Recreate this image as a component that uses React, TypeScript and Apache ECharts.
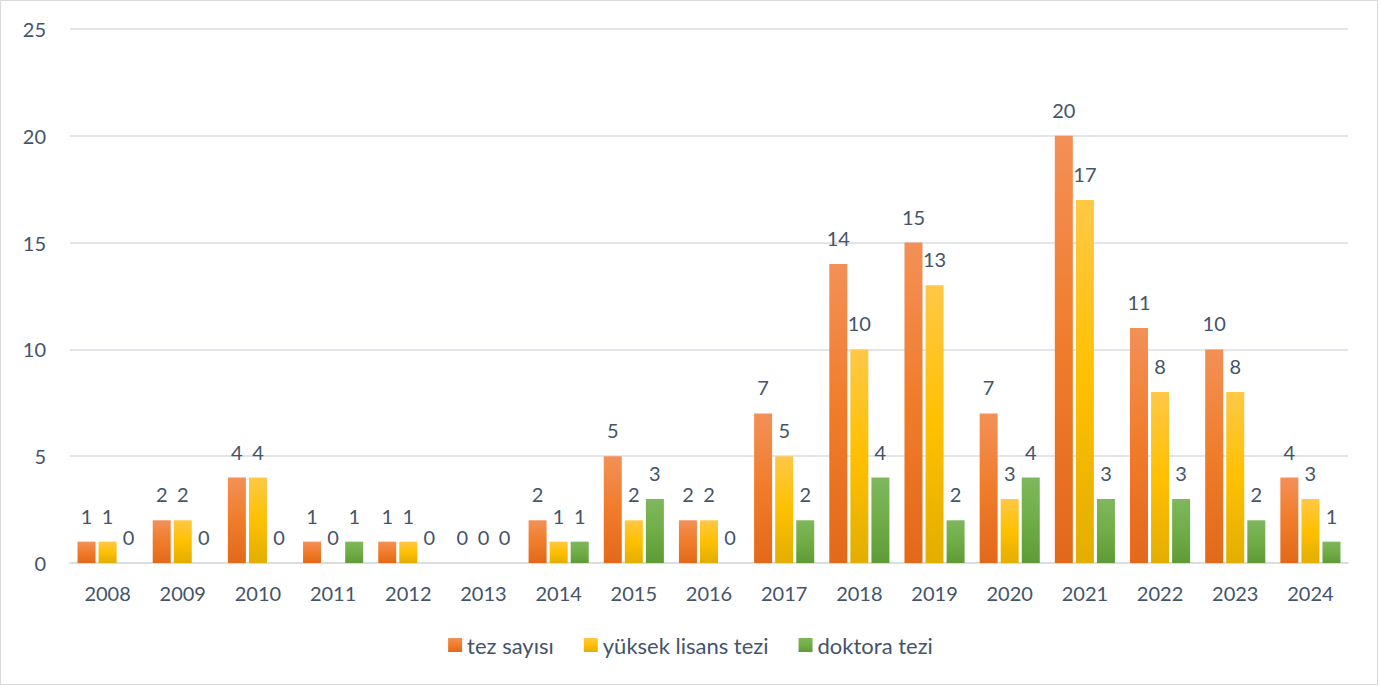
import React, { useEffect, useRef } from "react";
import * as echarts from "echarts";

const years = ["2008","2009","2010","2011","2012","2013","2014","2015","2016","2017","2018","2019","2020","2021","2022","2023","2024"];
const tezSayisi = [1,2,4,1,1,0,2,5,2,7,14,15,7,20,11,10,4];
const yuksekLisans = [1,2,4,0,1,0,1,2,2,5,10,13,3,17,8,8,3];
const doktora = [0,0,0,1,0,0,1,3,0,2,4,2,4,3,3,2,1];
const seriesNames = ["tez sayısı", "yüksek lisans tezi", "doktora tezi"];

const FONT = "Lato, 'Open Sans', sans-serif";
const TEXT = "#44546A";

const grad = (a: string, b: string, c: string) =>
  new echarts.graphic.LinearGradient(0, 0, 0, 1, [
    { offset: 0, color: a },
    { offset: 0.5, color: b },
    { offset: 1, color: c },
  ]);

export default function App() {
  const ref = useRef<HTMLDivElement>(null);
  useEffect(() => {
    if (!ref.current) return;
    const chart = echarts.init(ref.current, undefined, { renderer: "svg" });
    const colors = [
      grad("#F39057", "#F07C2A", "#E2691A"),
      grad("#FFC846", "#FFC000", "#E2AE00"),
      grad("#7FB75D", "#70AD47", "#5E9A36"),
    ];
    const mk = (name: string, data: number[], i: number) => ({
      name,
      type: "bar",
      data,
      barWidth: 18,
      barGap: "17%",
      itemStyle: { color: colors[i] },
      label: {
        show: true,
        position: "top",
        distance: 16,
        color: TEXT,
        fontSize: 20,
        fontFamily: FONT,
      },
    });
    chart.setOption({
      animation: false,
      backgroundColor: "#ffffff",
      graphic: [
        {
          type: "rect",
          shape: { x: 0.5, y: 0.5, width: 1377, height: 684 },
          style: { fill: "none", stroke: "#D9D9D9", lineWidth: 1 },
          silent: true,
          z: -10,
        },
      ],
      grid: { left: 70, right: 33, top: 29, bottom: 123, containLabel: false },
      legend: {
        bottom: 25,
        left: "center",
        itemWidth: 14,
        itemHeight: 14,
        itemGap: 30,
        icon: "rect",
        textStyle: { color: TEXT, fontSize: 22, fontFamily: FONT },
        data: seriesNames,
      },
      xAxis: {
        type: "category",
        data: years,
        axisLine: { lineStyle: { color: "#D9DEE5", width: 2 } },
        axisTick: { show: false },
        axisLabel: { color: TEXT, fontSize: 20, fontFamily: FONT, margin: 20 },
      },
      yAxis: {
        type: "value",
        min: 0,
        max: 25,
        interval: 5,
        axisLine: { show: false },
        axisTick: { show: false },
        splitLine: { lineStyle: { color: "#D9DEE5", width: 1.5 } },
        axisLabel: { color: TEXT, fontSize: 20, fontFamily: FONT, margin: 24 },
      },
      series: [
        mk(seriesNames[0], tezSayisi, 0),
        mk(seriesNames[1], yuksekLisans, 1),
        mk(seriesNames[2], doktora, 2),
      ],
    });
    return () => chart.dispose();
  }, []);
  return (
    <div
      ref={ref}
      style={{ position: "fixed", left: 0, top: 0, width: 1381, height: 686 }}
    />
  );
}
